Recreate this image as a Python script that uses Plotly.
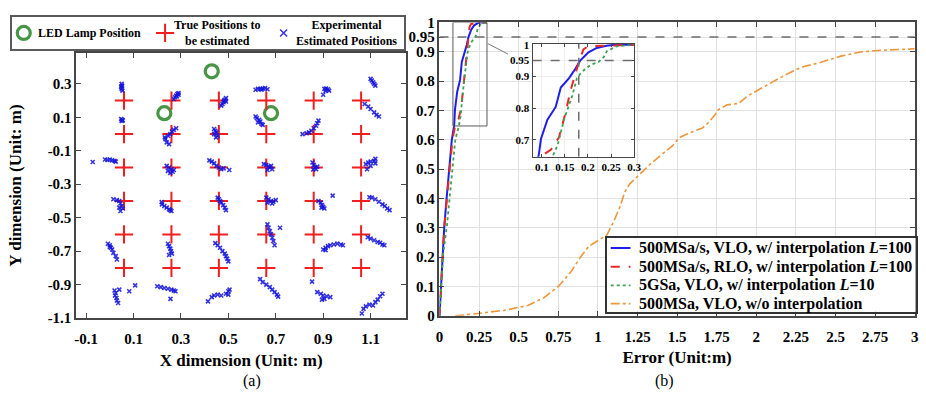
import plotly.graph_objects as go

W, H = 926, 399
FONT = "Liberation Serif, Times New Roman, serif"

# ---------------- Data: panel (a) ----------------
led_x = [0.23, 0.43, 0.68]
led_y = [0.125, 0.375, 0.125]

true_cols = [0.06, 0.26, 0.46, 0.66, 0.86, 1.06]
true_rows = [0.2, 0.0, -0.2, -0.4, -0.6, -0.8]

est_x = [
    # row 0.2
    0.05, 0.052, 0.048, 0.05, 0.053, 0.049,
    0.29, 0.285, 0.28, 0.275, 0.27, 0.29, 0.283,
    0.49, 0.485, 0.48, 0.475, 0.47, 0.49, 0.482,
    0.615, 0.625, 0.635, 0.645, 0.655, 0.665, 0.64,
    0.905, 0.912, 0.92, 0.925, 0.91, 0.9,
    1.10, 1.105, 1.11, 1.115, 1.12, 1.075, 1.09, 1.10, 1.115, 1.125, 1.135,
    # row 0
    0.048, 0.052, 0.05, 0.055,
    0.28, 0.27, 0.262, 0.255, 0.245, 0.235, 0.24, 0.232, 0.25,
    0.44, 0.445, 0.45, 0.44, 0.455, 0.448,
    0.615, 0.62, 0.63, 0.625, 0.64, 0.635, 0.645,
    0.88, 0.875, 0.87, 0.86, 0.85, 0.84, 0.83, 0.813,
    # row -0.2
    -0.072, -0.02, -0.01, 0.0, 0.01, 0.02, 0.025,
    0.24, 0.25, 0.26, 0.245, 0.265, 0.255, 0.27,
    0.42, 0.43, 0.44, 0.45, 0.46, 0.47, 0.48, 0.504,
    0.65, 0.66, 0.67, 0.675, 0.685, 0.68, 0.665,
    0.855, 0.86, 0.865, 0.87, 0.875, 0.858,
    1.12, 1.115, 1.10, 1.09, 1.08, 1.10, 1.085, 1.12,
    # row -0.4
    0.015, 0.03, 0.04, 0.045, 0.05, 0.04, 0.055, 0.045,
    0.219, 0.22, 0.23, 0.24, 0.25, 0.26, 0.255,
    0.455, 0.46, 0.465, 0.47, 0.478, 0.485, 0.49,
    0.66, 0.67, 0.68, 0.69, 0.70, 0.685, 0.665,
    0.94, 0.88, 0.89, 0.895, 0.90, 0.905, 0.893,
    1.095, 1.105, 1.12, 1.135, 1.15, 1.16, 1.17, 1.18,
    # row -0.6
    -0.008, 0.0, 0.005, 0.01, 0.015, 0.025, 0.03, 0.0,
    0.245, 0.25, 0.255, 0.258, 0.262, 0.25,
    0.445, 0.455, 0.465, 0.475, 0.485, 0.49, 0.495, 0.50,
    0.665, 0.67, 0.718, 0.675, 0.68, 0.685, 0.69, 0.695,
    0.90, 0.91, 0.92, 0.93, 0.945, 0.96, 0.975, 0.983, 0.91,
    1.088, 1.10, 1.115, 1.13, 1.14, 1.15, 1.158,
    # row -0.8
    0.02, 0.025, 0.022, 0.028, 0.03, 0.035, 0.082, 0.107, 0.04,
    0.20, 0.215, 0.23, 0.245, 0.26, 0.27, 0.277, 0.256,
    0.414, 0.43, 0.44, 0.455, 0.47, 0.49, 0.50, 0.505, 0.50,
    0.634, 0.645, 0.66, 0.675, 0.685, 0.695, 0.705, 0.71,
    0.853, 0.875, 0.89, 0.90, 0.915, 0.93, 0.905, 0.895,
    1.063, 1.07, 1.08, 1.095, 1.11, 1.12, 1.13, 1.14, 1.15,
]
est_y = [
    # row 0.2
    0.30, 0.29, 0.28, 0.27, 0.26, 0.285,
    0.245, 0.24, 0.23, 0.22, 0.21, 0.235, 0.225,
    0.215, 0.205, 0.19, 0.18, 0.17, 0.195, 0.20,
    0.265, 0.27, 0.27, 0.272, 0.275, 0.268, 0.265,
    0.27, 0.272, 0.268, 0.26, 0.258, 0.235,
    0.33, 0.32, 0.31, 0.30, 0.29, 0.18, 0.165, 0.15, 0.13, 0.115, 0.105,
    # row 0
    0.09, 0.085, 0.078, 0.082,
    0.035, 0.025, 0.015, 0.0, -0.01, -0.03, -0.05, -0.02, -0.06,
    0.03, 0.02, 0.01, 0.0, -0.01, -0.02,
    0.105, 0.095, 0.085, 0.07, 0.06, 0.075, 0.055,
    0.08, 0.065, 0.05, 0.035, 0.02, 0.01, 0.005, 0.0,
    # row -0.2
    -0.167, -0.152, -0.155, -0.152, -0.157, -0.16, -0.165,
    -0.19, -0.20, -0.21, -0.22, -0.225, -0.232, -0.215,
    -0.157, -0.165, -0.175, -0.19, -0.20, -0.21, -0.205, -0.215,
    -0.18, -0.185, -0.195, -0.20, -0.21, -0.19, -0.215,
    -0.17, -0.185, -0.20, -0.21, -0.195, -0.212,
    -0.148, -0.16, -0.165, -0.17, -0.18, -0.19, -0.21, -0.175,
    # row -0.4
    -0.39, -0.395, -0.40, -0.415, -0.43, -0.44, -0.445, -0.46,
    -0.407, -0.42, -0.43, -0.44, -0.45, -0.46, -0.455,
    -0.38, -0.39, -0.40, -0.41, -0.425, -0.44, -0.455,
    -0.38, -0.39, -0.40, -0.405, -0.395, -0.415, -0.41,
    -0.368, -0.40, -0.41, -0.425, -0.435, -0.445, -0.44,
    -0.378, -0.38, -0.39, -0.405, -0.42, -0.43, -0.445, -0.455,
    # row -0.6
    -0.656, -0.665, -0.68, -0.69, -0.71, -0.73, -0.75, -0.675,
    -0.656, -0.67, -0.685, -0.70, -0.715, -0.723,
    -0.652, -0.665, -0.68, -0.70, -0.715, -0.73, -0.745, -0.761,
    -0.54, -0.56, -0.56, -0.58, -0.60, -0.62, -0.64, -0.665,
    -0.69, -0.68, -0.67, -0.665, -0.66, -0.655, -0.66, -0.665, -0.694,
    -0.617, -0.625, -0.635, -0.645, -0.65, -0.66, -0.665,
    # row -0.8
    -0.935, -0.95, -0.965, -0.98, -0.995, -1.01, -0.94, -0.905, -0.93,
    -0.91, -0.915, -0.92, -0.925, -0.93, -0.935, -0.94, -0.985,
    -1.0, -0.975, -0.965, -0.96, -0.965, -0.955, -0.94, -0.93, -0.96,
    -0.867, -0.885, -0.90, -0.915, -0.93, -0.945, -0.96, -0.972,
    -0.882, -0.945, -0.955, -0.965, -0.97, -0.975, -0.985, -0.99,
    -1.073, -1.045, -1.03, -1.02, -1.025, -1.005, -0.99, -0.97, -0.955,
]

names_a = ["LED Lamp Position", "True Positions to<br>be estimated",
           "Experimental<br>Estimated Positions"]

# ---------------- Data: panel (b) CDFs ----------------
blue_x = [0, 0.02, 0.03, 0.045, 0.062, 0.078, 0.093, 0.098, 0.112, 0.13, 0.141, 0.159,
          0.173, 0.183, 0.201, 0.219, 0.24, 0.26, 0.3]
blue_y = [0, 0.2, 0.3, 0.4, 0.5, 0.6, 0.65, 0.703, 0.764, 0.804, 0.865, 0.895,
          0.925, 0.95, 0.976, 0.99, 0.997, 1.0, 1.0]
red_x = [0, 0.02, 0.03, 0.047, 0.064, 0.082, 0.1, 0.12, 0.137, 0.151, 0.162, 0.173,
         0.18, 0.19, 0.2, 0.3]
red_y = [0, 0.2, 0.3, 0.4, 0.5, 0.6, 0.65, 0.67, 0.708, 0.784, 0.855, 0.915,
         0.945, 0.985, 0.995, 1.0]
green_x = [0, 0.023, 0.047, 0.063, 0.082, 0.1, 0.123, 0.134, 0.148, 0.166, 0.176, 0.187,
           0.205, 0.223, 0.234, 0.241, 0.262, 0.3]
green_y = [0, 0.21, 0.307, 0.4, 0.5, 0.6, 0.648, 0.683, 0.764, 0.84, 0.895, 0.915,
           0.936, 0.946, 0.961, 0.98, 0.995, 1.0]
orange_x = [0.1, 0.14, 0.245, 0.41, 0.557, 0.66, 0.75, 0.83, 0.89, 0.942, 1.056, 1.098,
            1.14, 1.17, 1.2, 1.264, 1.326, 1.41, 1.472, 1.513, 1.576, 1.66, 1.7, 1.742,
            1.753, 1.815, 1.888, 1.95, 2.075, 2.179, 2.283, 2.408, 2.533, 2.657, 2.782,
            2.907, 3.0]
orange_y = [0, 0.002, 0.008, 0.019, 0.035, 0.062, 0.1, 0.15, 0.2, 0.237, 0.275, 0.319,
            0.373, 0.422, 0.449, 0.482, 0.515, 0.553, 0.58, 0.607, 0.623, 0.64, 0.66, 0.687,
            0.7, 0.719, 0.724, 0.751, 0.79, 0.82, 0.847, 0.864, 0.885, 0.899, 0.905,
            0.909, 0.91]

names_b = [
    "500MSa/s, VLO, w/ interpolation <i>L</i>=100",
    "500MSa/s, RLO, w/ interpolation <i>L</i>=100",
    "5GSa, VLO, w/ interpolation <i>L</i>=10",
    "500MSa, VLO, w/o interpolation",
]

main_yticks = [0, 0.1, 0.2, 0.3, 0.4, 0.5, 0.6, 0.7, 0.8, 0.9, 0.95, 1]
main_xticks = [0, 0.25, 0.5, 0.75, 1, 1.25, 1.5, 1.75, 2, 2.25, 2.5, 2.75, 3]
main_xlabels = ["0", "0.25", "0.5", "0.75", "1", "1.25", "1.5", "1.75", "2", "2.25", "2.5", "2.75", "3"]
inset_xticks = [0.1, 0.15, 0.2, 0.25, 0.3]
inset_xlabels = ["0.1", "0.15", "0.2", "0.25", "0.3"]
inset_yticks = [0.7, 0.8, 0.9, 0.95, 1]
inset_xrange = [0.08, 0.3]
inset_yrange = [0.647, 1.003]
threshold = 0.95
err_at_95 = 0.18

a_xticks = [-0.1, 0.1, 0.3, 0.5, 0.7, 0.9, 1.1]
a_yticks = [-1.1, -0.9, -0.7, -0.5, -0.3, -0.1, 0.1, 0.3]

# ---------------- Helpers / layout constants (pixels) ----------------
def px_x(p):
    return p / W

def px_y(p):
    return 1 - p / H

LEG_A = dict(x0=8, x1=405, y0=9.5, y1=42.5)         # left legend box (px)
LEG_B = dict(x0=610, x1=922.5, y0=239.5, y1=316.5)  # right legend box (px)
leg_a_sym_x = [20, 163, 283]
leg_a_txt_x = [32, 216, 347]
leg_a_mid_y = 26
leg_b_rows = [250, 269.5, 289, 308]
leg_b_sample = [614, 634]
leg_b_txt_x = 641

fig = go.Figure()

true_x = [c for r in true_rows for c in true_cols]
true_y = [r for r in true_rows for c in true_cols]

st_led = dict(symbol="circle-open", size=13, color="rgb(70,150,70)", line=dict(width=3.2))
st_true = dict(symbol="cross-thin", size=13, color="rgb(240,30,30)",
               line=dict(width=2, color="rgb(240,30,30)"))
st_est = dict(symbol="x-thin", size=4, color="rgba(20,20,220,0.85)",
              line=dict(width=1.6, color="rgba(20,20,220,0.85)"))

fig.add_trace(go.Scatter(x=led_x, y=led_y, mode="markers", name=names_a[0], marker=st_led,
                         xaxis="x", yaxis="y"))
fig.add_trace(go.Scatter(x=true_x, y=true_y, mode="markers", name=names_a[1], marker=st_true,
                         xaxis="x", yaxis="y"))
fig.add_trace(go.Scatter(x=est_x, y=est_y, mode="markers", name=names_a[2], marker=st_est,
                         xaxis="x", yaxis="y"))

styles = [
    ("rgb(30,30,235)", "solid", 2.0),
    ("rgb(235,40,40)", "dash", 2.0),
    ("rgb(60,160,80)", "dot", 1.8),
    ("rgb(238,150,60)", "dashdot", 1.6),
]
series_b = [(blue_x, blue_y), (red_x, red_y), (green_x, green_y), (orange_x, orange_y)]
for (xs, ys), (col, dash, w), nm in zip(series_b, styles, names_b):
    fig.add_trace(go.Scatter(x=xs, y=ys, mode="lines", name=nm,
                             line=dict(color=col, dash=dash, width=w),
                             xaxis="x2", yaxis="y2"))
for (xs, ys), (col, dash, w), nm in zip(series_b[:3], styles[:3], names_b[:3]):
    fig.add_trace(go.Scatter(x=xs, y=ys, mode="lines", name=nm,
                             line=dict(color=col, dash=dash, width=w),
                             xaxis="x3", yaxis="y3"))

# legend (a) entries on a helper axis spanning the legend box
for sx, st, nm in zip(leg_a_sym_x, [st_led, st_true, st_est], names_a):
    big = dict(st)
    if st is st_est:
        big = dict(st, size=7)
    fig.add_trace(go.Scatter(x=[sx], y=[leg_a_mid_y], mode="markers", marker=big, name=nm,
                             xaxis="x4", yaxis="y4", hoverinfo="skip"))
# legend (b) entries on a helper axis spanning the legend box
for ry, (col, dash, w), nm in zip(leg_b_rows, styles, names_b):
    fig.add_trace(go.Scatter(x=leg_b_sample, y=[ry, ry], mode="lines", name=nm,
                             line=dict(color=col, dash=dash, width=w),
                             xaxis="x5", yaxis="y5", hoverinfo="skip"))

AX = "rgb(70,70,70)"
tickfont = dict(family=FONT, size=15, color="black", weight="bold")
titlefont = dict(family=FONT, size=17, weight="bold", color="black")
common = dict(showline=True, linecolor=AX, linewidth=1.5, mirror="ticks", ticks="inside",
              ticklen=5, tickcolor=AX, zeroline=False)
inset_common = dict(showline=True, linecolor=AX, linewidth=1.2, mirror="ticks", ticks="inside",
                    ticklen=3, tickcolor=AX, zeroline=False, showgrid=True,
                    gridcolor="rgb(238,238,238)",
                    tickfont=dict(family=FONT, size=11, weight="bold", color="black"))
helper = dict(showline=True, linecolor="rgb(90,90,90)", linewidth=1.5, mirror=True,
              showgrid=False, zeroline=False, showticklabels=False, ticks="", fixedrange=True)

fig.update_layout(
    width=W, height=H, margin=dict(l=0, r=0, t=0, b=0),
    paper_bgcolor="white", plot_bgcolor="white", showlegend=False,
    font=dict(family=FONT, color="black"),
    xaxis=dict(domain=[px_x(73), px_x(407)], range=[-0.142, 1.25], anchor="y",
               tickvals=a_xticks, ticktext=[f"{v:g}" for v in a_xticks], tickfont=tickfont,
               showgrid=False, ticklabelstandoff=6,
               title=dict(text="X dimension (Unit: m)", font=titlefont, standoff=8), **common),
    yaxis=dict(domain=[px_y(323), px_y(47)], range=[-1.1, 0.484], anchor="x",
               tickvals=a_yticks, ticktext=[f"{v:g}" for v in a_yticks], tickfont=tickfont,
               showgrid=False,
               title=dict(text="Y dimension (Unit: m)", font=titlefont, standoff=22), **common),
    xaxis2=dict(domain=[px_x(440.7), px_x(921.7)], range=[0, 3], anchor="y2",
                tickvals=main_xticks, ticktext=main_xlabels, tickfont=tickfont,
                showgrid=True, gridcolor="rgb(225,225,225)", gridwidth=1, ticklabelstandoff=6,
                title=dict(text="Error (Unit:m)", font=titlefont, standoff=8), **common),
    yaxis2=dict(domain=[px_y(320.7), px_y(15)], range=[0, 1], anchor="x2",
                tickvals=main_yticks, ticktext=[f"{v:g}" for v in main_yticks], tickfont=tickfont,
                showgrid=True, gridcolor="rgb(225,225,225)", gridwidth=1, **common),
    xaxis3=dict(domain=[px_x(535), px_x(637.7)], range=inset_xrange, anchor="y3",
                tickvals=inset_xticks, ticktext=inset_xlabels, **inset_common),
    yaxis3=dict(domain=[px_y(155), px_y(37.3)], range=inset_yrange, anchor="x3",
                tickvals=inset_yticks, ticktext=[f"{v:g}" for v in inset_yticks], **inset_common),
    xaxis4=dict(domain=[px_x(LEG_A["x0"]), px_x(LEG_A["x1"])], range=[LEG_A["x0"], LEG_A["x1"]],
                anchor="y4", **helper),
    yaxis4=dict(domain=[px_y(LEG_A["y1"]), px_y(LEG_A["y0"])], range=[LEG_A["y1"], LEG_A["y0"]],
                anchor="x4", **helper),
    xaxis5=dict(domain=[px_x(LEG_B["x0"]), px_x(LEG_B["x1"])], range=[LEG_B["x0"], LEG_B["x1"]],
                anchor="y5", **dict(helper, linecolor="rgb(50,50,50)")),
    yaxis5=dict(domain=[px_y(LEG_B["y1"]), px_y(LEG_B["y0"])], range=[LEG_B["y1"], LEG_B["y0"]],
                anchor="x5", **dict(helper, linecolor="rgb(50,50,50)")),
)

# legend texts
leg_a_font = dict(family=FONT, size=12, weight="bold", color="black")
fig.add_annotation(text=names_a[0], x=leg_a_txt_x[0], y=leg_a_mid_y, xref="x4", yref="y4",
                   xanchor="left", yanchor="middle", showarrow=False, font=leg_a_font)
for tx, nm in zip(leg_a_txt_x[1:], names_a[1:]):
    fig.add_annotation(text=nm, x=tx, y=leg_a_mid_y, xref="x4", yref="y4", align="center",
                       xanchor="center", yanchor="middle", showarrow=False, font=leg_a_font)
leg_b_font = dict(family=FONT, size=16, weight="bold", color="black")
for ry, nm in zip(leg_b_rows, names_b):
    fig.add_annotation(text=nm, x=leg_b_txt_x, y=ry, xref="x5", yref="y5",
                       xanchor="left", yanchor="middle", showarrow=False, font=leg_b_font)

# Reference lines and zoom box
dash_col = "rgb(110,110,110)"
fig.add_shape(type="line", xref="x2", yref="y2", x0=0, x1=3, y0=threshold, y1=threshold,
              line=dict(color=dash_col, width=1.6, dash="dash"))
fig.add_shape(type="rect", xref="x2", yref="y2", x0=inset_xrange[0] + 0.005, x1=inset_xrange[1],
              y0=inset_yrange[0], y1=1.0, line=dict(color="rgb(90,90,90)", width=1))
fig.add_shape(type="line", xref="x3", yref="y3", x0=inset_xrange[0], x1=inset_xrange[1],
              y0=threshold, y1=threshold, line=dict(color=dash_col, width=1.5, dash="dash"))
fig.add_shape(type="line", xref="x3", yref="y3", x0=err_at_95, x1=err_at_95,
              y0=inset_yrange[0], y1=inset_yrange[1], line=dict(color=dash_col, width=1.5, dash="dash"))
fig.add_shape(type="line", xref="paper", yref="paper", x0=px_x(489.5), y0=px_y(37),
              x1=px_x(510), y1=px_y(48), line=dict(color="rgb(120,120,120)", width=1))

fig.add_annotation(text="(a)", x=px_x(240), y=px_y(389), xref="paper", yref="paper",
                   yanchor="middle", showarrow=False, font=dict(family=FONT, size=16, color="black"))
fig.add_annotation(text="(b)", x=px_x(680), y=px_y(389), xref="paper", yref="paper",
                   yanchor="middle", showarrow=False, font=dict(family=FONT, size=16, color="black"))

fig.write_html("out.html")
